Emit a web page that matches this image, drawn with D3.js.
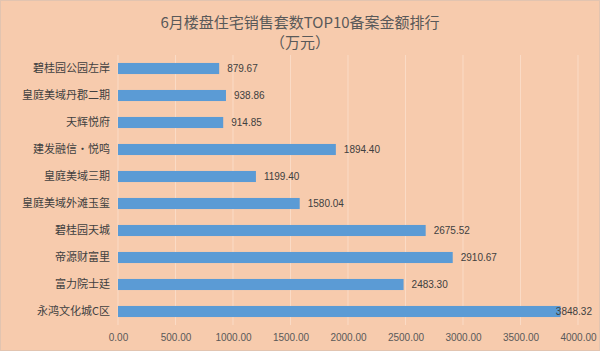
<!DOCTYPE html>
<html><head><meta charset="utf-8">
<script src="https://cdn.jsdelivr.net/npm/d3@7"></script>
<style>html,body{margin:0;padding:0;background:#F7CBAD;}svg{display:block;}</style>
</head><body>
<script>
const categories = ["碧桂园公园左岸","皇庭美域丹郡二期","天辉悦府","建发融信·悦鸣","皇庭美域三期","皇庭美域外滩玉玺","碧桂园天城","帝源财富里","富力院士廷","永鸿文化城C区"];
const values = [879.67, 938.86, 914.85, 1894.40, 1199.40, 1580.04, 2675.52, 2910.67, 2483.30, 3848.32];
const tickValues = [0,500,1000,1500,2000,2500,3000,3500,4000];
const titleLines = ["6月楼盘住宅销售套数TOP10备案金额排行","（万元）"];

const W=600,H=351;
const svg=d3.select("body").append("svg").attr("width",W).attr("height",H);
svg.append("rect").attr("x",0.5).attr("y",0.5).attr("width",W-1).attr("height",H-1).attr("fill","#F7CBAD").attr("stroke","#E2C4B0");

const x=d3.scaleLinear().domain([0,4000]).range([118,578]);
const y=d3.scaleBand().domain(categories).range([55,325]).paddingInner(0.59).paddingOuter(0.295);

// gridlines
svg.append("g").selectAll("line").data(tickValues).join("line")
  .attr("x1",d=>x(d)).attr("x2",d=>x(d)).attr("y1",55).attr("y2",325)
  .attr("stroke","#FADBC6").attr("stroke-width",1);

// bars
svg.append("g").selectAll("rect").data(values).join("rect")
  .attr("x",x(0)).attr("y",(d,i)=>y(categories[i]))
  .attr("width",d=>x(d)-x(0)).attr("height",y.bandwidth())
  .attr("fill","#5B9BD5");

// value labels
svg.append("g").selectAll("text").data(values).join("text")
  .attr("x",d=>x(d)+8).attr("y",(d,i)=>y(categories[i])+y.bandwidth()/2)
  .attr("dy","0.35em").attr("font-family","Liberation Sans, Arial, sans-serif").attr("font-size",10)
  .attr("fill","#404040").text(d=>d.toFixed(2))
  .each(function(){
    const bb=this.getBBox();
    if(bb.x+bb.width>W-8){ d3.select(this).attr("x",W-8).attr("text-anchor","end"); }
  });

// category axis labels
svg.append("g").selectAll("text").data(categories).join("text")
  .attr("x",110).attr("y",d=>y(d)+y.bandwidth()/2).attr("dy","0.35em")
  .attr("text-anchor","end").attr("font-family","Noto Sans CJK SC").attr("font-size",11)
  .attr("fill","#404040").text(d=>d);

// x axis
const ax=svg.append("g").attr("transform","translate(0,325)")
  .call(d3.axisBottom(x).tickValues(tickValues).tickFormat(d=>d.toFixed(2)).tickSize(0).tickPadding(9));
ax.select(".domain").remove();
ax.selectAll("text").attr("font-family","Liberation Sans, Arial, sans-serif").attr("font-size",10).attr("fill","#595959");

// title
svg.append("g").selectAll("text").data(titleLines).join("text")
  .attr("x",300).attr("y",(d,i)=>28+i*20).attr("text-anchor","middle")
  .attr("font-family","Noto Sans CJK SC").attr("font-size",15).attr("fill","#595959").text(d=>d);
</script>
</body></html>
